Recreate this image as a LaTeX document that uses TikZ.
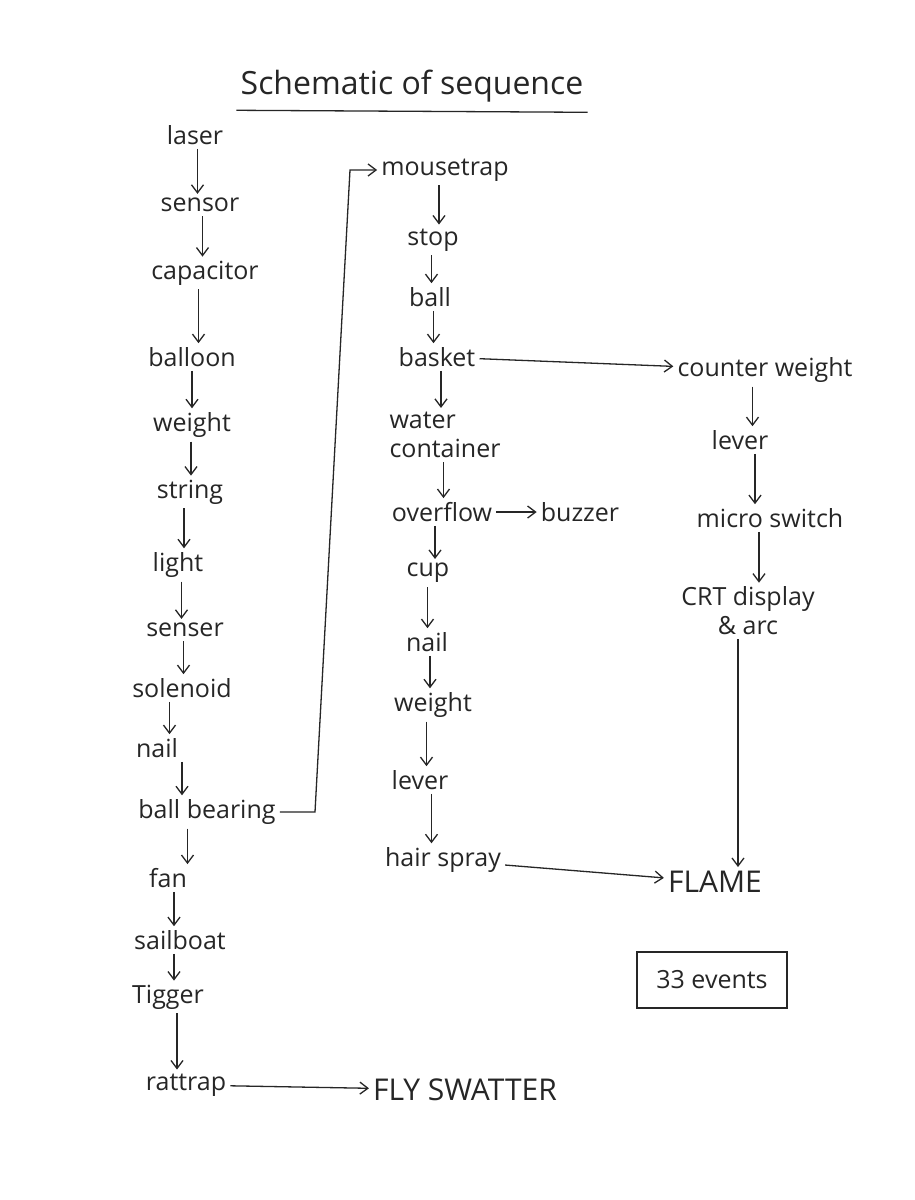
\documentclass[tikz,border=0pt]{standalone}
\usepackage{fontspec}
\setmainfont{Open Sans}
\usepackage{xcolor}
\usetikzlibrary{arrows.meta, positioning, calc}
\definecolor{pencil}{gray}{0.15}
\tikzstyle{word} = [inner sep=4pt, text=pencil, font=\fontsize{25}{29}\selectfont]
\tikzstyle{caps} = [inner sep=4pt, text=pencil, font=\fontsize{30}{34}\selectfont]
\tikzstyle{arrow} = [draw=pencil, line width=1.3pt, ->, >={Straight Barb[length=8pt,width=12pt]}]

\begin{document}
\begin{tikzpicture}[
    x=1pt, y=-1pt,
    word/.style={inner sep=4pt, text=pencil, font=\fontsize{25}{29}\selectfont},
    caps/.style={inner sep=4pt, text=pencil, font=\fontsize{30}{34}\selectfont},
    arrow/.style={draw=pencil, line width=1.3pt, ->, >={Straight Barb[length=8pt,width=12pt]}}
]
    \useasboundingbox[fill=white] (0,0) rectangle (914,1200);

    % Title
    \node [word, font=\fontsize{32}{36}\selectfont] (title) at (412,86) {Schematic of sequence};
    \draw [pencil, line width=1.3pt] ([yshift=-4pt]title.south west) -- ([yshift=-6pt]title.south east);

    % Left Column
    \node [word] (laser) at (195,135) {laser};
    \node [word] (sensor) at (200,205) {sensor};
    \node [word] (capacitor) at (205,273) {capacitor};
    \node [word] (balloon) at (192,357) {balloon};
    \node [word] (weight) at (192,425) {weight};
    \node [word] (string) at (190,492) {string};
    \node [word] (light) at (178,565) {light};
    \node [word] (senser) at (185,630) {senser};
    \node [word] (solenoid) at (182,688) {solenoid};
    \node [word] (nail) at (157,748) {nail};
    \node [word] (bearing) at (207,812) {ball bearing};
    \node [word] (fan) at (168,878) {fan};
    \node [word] (sailboat) at (180,940) {sailboat};
    \node [word] (tigger) at (168,997) {Tigger};
    \node [word] (rattrap) at (186,1085) {rattrap};
    \node [caps] (swatter) at (465,1090) {FLY SWATTER};

    % Middle Column
    \node [word] (mousetrap) at (445,170) {mousetrap};
    \node [word] (stop) at (433,240) {stop};
    \node [word] (ball) at (430,297) {ball};
    \node [word] (basket) at (437,357) {basket};
    \node [word, align=left] (water) at (445,435) {water\\container};
    \node [word] (overflow) at (442,512) {overflow};
    \node [word] (buzzer) at (580,512) {buzzer};
    \node [word] (cup) at (428,573) {cup};
    \node [word] (nailb) at (427,642) {nail};
    \node [word] (weightb) at (433,705) {weight};
    \node [word] (lever) at (420,780) {lever};
    \node [word] (hairspray) at (443,860) {hair spray};
    \node [caps] (flame) at (715,882) {FLAME};

    % Right Column
    \node [word] (counter) at (765,370) {counter weight};
    \node [word] (leverb) at (740,440) {lever};
    \node [word] (micro) at (770,518) {micro switch};
    \node [word, align=center] (crt) at (748,611) {CRT display\\ \& arc};
    \node [word, draw=pencil, line width=1.2pt, minimum width=150pt, minimum height=56pt] (events) at (712,980) {33 events};

    % Connections
    \foreach \a/\b in {laser/sensor, sensor/capacitor, capacitor/balloon, balloon/weight,
        weight/string, string/light, light/senser, senser/solenoid, solenoid/nail,
        nail/bearing, bearing/fan, fan/sailboat, sailboat/tigger, tigger/rattrap,
        mousetrap/stop, stop/ball, ball/basket, basket/water, water/overflow,
        overflow/cup, cup/nailb, nailb/weightb, weightb/lever, lever/hairspray,
        counter/leverb, leverb/micro, micro/crt}
    {
        \coordinate (mid) at ($(\a.south)!.5!(\b.north)$);
        \draw [arrow] (mid |- \a.south) -- (mid |- \b.north);
    }

    \coordinate (bendlow) at (315,812);
    \coordinate (bendhigh) at (350,170);
    \draw [arrow] (bearing.east) -- (bendlow) -- (bendhigh) -- (mousetrap.west);

    \draw [arrow] (rattrap) -- (swatter);
    \draw [arrow] (overflow) -- (buzzer);
    \draw [arrow] (basket) -- (counter);
    \draw [arrow] (hairspray) -- (flame);
    \draw [arrow] ([xshift=-10pt]crt.south) -- ([xshift=-10pt]crt.south |- flame.north);
\end{tikzpicture}
\end{document}
